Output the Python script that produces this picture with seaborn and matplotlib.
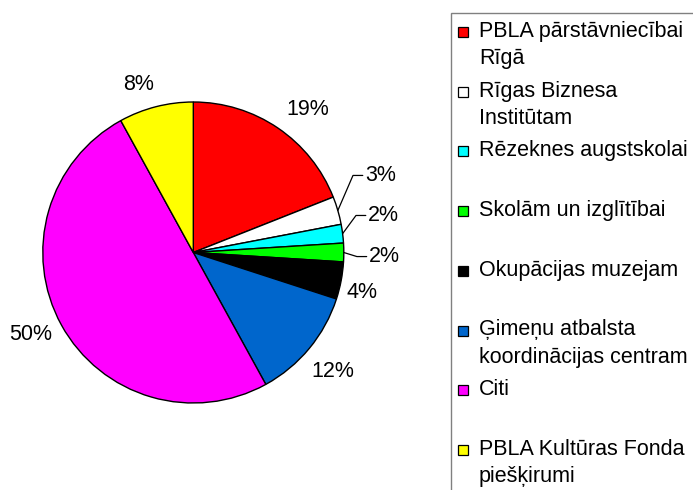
import seaborn as sns
import matplotlib.pyplot as plt
import numpy as np
from matplotlib.patches import Rectangle

# data
categories = [
    'PBLA pārstāvniecībai\nRīgā',
    'Rīgas Biznesa\nInstitūtam',
    'Rēzeknes augstskolai',
    'Skolām un izglītībai',
    'Okupācijas muzejam',
    'Ģimeņu atbalsta\nkoordinācijas centram',
    'Citi',
    'PBLA Kultūras Fonda\npiešķirumi',
]
shares = [19, 3, 2, 2, 4, 12, 50, 8]
colors = ['#FF0000', '#FFFFFF', '#00FFFF', '#00FF00', '#000000', '#0066CC', '#FF00FF', '#FFFF00']

# label placement (pie units, radius = 1); leader=True -> left aligned with leader line
label_xy = [(0.762, 0.950), (1.141, 0.512), (1.161, 0.246), (1.167, -0.027),
            (1.124, -0.269), (0.928, -0.794), (-1.078, -0.542), (-0.361, 1.113)]
leader = [False, True, True, True, False, False, False, False]

sns.set_style('white')
plt.rcParams['font.family'] = ['Liberation Sans', 'DejaVu Sans']
plt.rcParams['text.color'] = 'black'
fs = 15.5

W, H = 693, 490
fig = plt.figure(figsize=(W / 100, H / 100), dpi=100)
cx, cy, r = 193.3, 252.5, 150.5
ax = fig.add_axes([(cx - r) / W, (H - cy - r) / H, 2 * r / W, 2 * r / H])
wedges, _ = ax.pie(shares, colors=colors, startangle=90, counterclock=False,
                   wedgeprops=dict(edgecolor='black', linewidth=1))
for w in wedges:
    w.set_clip_on(False)
ax.set_xlim(-1, 1)
ax.set_ylim(-1, 1)
ax.set_aspect('equal')
ax.axis('off')

cum = np.cumsum([0] + shares[:-1])
for i, v in enumerate(shares):
    lx, ly = label_xy[i]
    txt = f'{v}%'
    if leader[i]:
        theta = np.deg2rad(90 - 360 * (cum[i] + v / 2) / 100)
        px, py = np.cos(theta), np.sin(theta)
        ax.plot([px, lx - 0.08, lx - 0.015], [py, ly, ly], color='black', lw=0.9, clip_on=False)
        ax.text(lx, ly, txt, ha='left', va='center', fontsize=fs, color='black')
    else:
        ax.text(lx, ly, txt, ha='center', va='center', fontsize=fs, color='black')

# legend box
fig.patches.append(Rectangle((451 / W, -0.1), 0.5, (H - 13) / H + 0.1, transform=fig.transFigure,
                             facecolor='white', edgecolor='#808080', lw=1, zorder=0))
for i, (name, c) in enumerate(zip(categories, colors)):
    yp = 32 + i * 59.7
    fig.patches.append(Rectangle((457.5 / W, (H - yp - 5) / H), 10 / W, 10 / H, transform=fig.transFigure,
                                 facecolor=c, edgecolor='black', lw=0.9, zorder=2))
    fig.text(479 / W, (H - yp + 11) / H, name, ha='left', va='top', fontsize=fs,
             linespacing=1.38, color='black')

fig.savefig('out.png', dpi=100)
